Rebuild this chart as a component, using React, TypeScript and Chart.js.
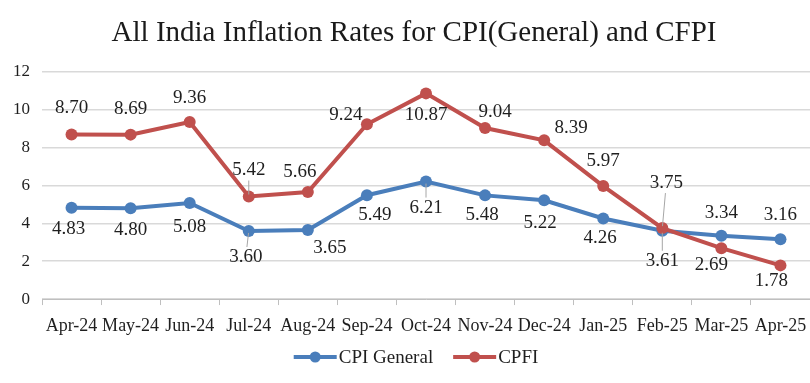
import React, { useEffect, useRef } from "react";
import { Chart, registerables } from "chart.js";

Chart.register(...registerables);

const months = ["Apr-24", "May-24", "Jun-24", "Jul-24", "Aug-24", "Sep-24", "Oct-24", "Nov-24", "Dec-24", "Jan-25", "Feb-25", "Mar-25", "Apr-25"];
const cpiGeneral = [4.83, 4.8, 5.08, 3.6, 3.65, 5.49, 6.21, 5.48, 5.22, 4.26, 3.61, 3.34, 3.16];
const cfpi = [8.7, 8.69, 9.36, 5.42, 5.66, 9.24, 10.87, 9.04, 8.39, 5.97, 3.75, 2.69, 1.78];
const yTicks = [0, 2, 4, 6, 8, 10, 12];
const titleText = "All India Inflation Rates for CPI(General) and CFPI";
const seriesNames = ["CPI General", "CPFI"];

const BLUE = "#4A7EBB";
const RED = "#C0504D";
const TEXT = "#1f1f1f";
const FONT = "'Liberation Serif', 'Times New Roman', serif";

// label placement offsets (dx, dy) relative to each point, plus leader-line flags
const cpiLabelOffsets = [[-3, 21], [0, 22], [0, 24], [-3, 26], [22, 18], [8, 20], [0, 26], [-3, 20], [-4, 23], [-3, 20], [0, 30], [0, -23], [0, -24]];
const cfpiLabelOffsets = [[0, -26], [0, -26], [0, -24], [0, -26], [-8, -20], [-21, -9], [0, 22], [10, -16], [27, -12], [0, -25], [4, -45], [-10, 17], [-9, 16]];
const cpiLeaders = [false, false, false, true, false, false, true, false, false, false, true, false, false];
const cfpiLeaders = [false, false, false, true, false, false, false, false, false, false, true, false, false];

const dataLabelPlugin = {
  id: "dataLabels",
  afterDatasetsDraw(chart: any) {
    const ctx = chart.ctx;
    const sets = [
      { values: cpiGeneral, offsets: cpiLabelOffsets, leaders: cpiLeaders, idx: 0 },
      { values: cfpi, offsets: cfpiLabelOffsets, leaders: cfpiLeaders, idx: 1 },
    ];
    ctx.save();
    ctx.font = `19px ${FONT}`;
    ctx.textAlign = "center";
    ctx.textBaseline = "middle";
    for (const s of sets) {
      const meta = chart.getDatasetMeta(s.idx);
      meta.data.forEach((pt: any, i: number) => {
        const [dx, dy] = s.offsets[i];
        const lx = pt.x + dx;
        const ly = pt.y + dy;
        if (s.leaders[i]) {
          const len = Math.hypot(dx, dy);
          const ux = dx / len;
          const uy = dy / len;
          ctx.strokeStyle = "#a6a6a6";
          ctx.lineWidth = 1;
          ctx.beginPath();
          ctx.moveTo(lx - ux * 10, ly - uy * 10);
          ctx.lineTo(pt.x + ux * 2, pt.y + uy * 2);
          ctx.stroke();
        }
        ctx.fillStyle = TEXT;
        ctx.fillText(s.values[i].toFixed(2), lx, ly);
      });
    }
    ctx.restore();
  },
};

const titleLegendPlugin = {
  id: "titleLegend",
  afterDraw(chart: any) {
    const ctx = chart.ctx;
    ctx.save();
    // title
    ctx.font = `29px ${FONT}`;
    ctx.fillStyle = "#1a1a1a";
    ctx.textAlign = "center";
    ctx.textBaseline = "middle";
    ctx.fillText(titleText, 414, 33);
    // legend
    ctx.font = `19px ${FONT}`;
    ctx.textAlign = "left";
    const colors = [BLUE, RED];
    const iconW = 43;
    const gapIcon = 2;
    const gapItem = 20;
    const widths = seriesNames.map((n) => ctx.measureText(n).width);
    const total = widths.reduce((a, w) => a + iconW + gapIcon + w, 0) + gapItem * (seriesNames.length - 1);
    let x = 416 - total / 2;
    const y = 357;
    seriesNames.forEach((name, i) => {
      ctx.strokeStyle = colors[i];
      ctx.lineWidth = 4;
      ctx.beginPath();
      ctx.moveTo(x, y);
      ctx.lineTo(x + iconW, y);
      ctx.stroke();
      ctx.fillStyle = colors[i];
      ctx.beginPath();
      ctx.arc(x + iconW / 2, y, 5.5, 0, Math.PI * 2);
      ctx.fill();
      ctx.fillStyle = TEXT;
      ctx.fillText(name, x + iconW + gapIcon, y + 1);
      x += iconW + gapIcon + widths[i] + gapItem;
    });
    ctx.restore();
  },
};

export default function App() {
  const ref = useRef<HTMLCanvasElement>(null);
  useEffect(() => {
    if (!ref.current) return;
    const chart = new Chart(ref.current, {
      type: "line",
      data: {
        labels: months,
        datasets: [
          {
            label: seriesNames[0],
            data: cpiGeneral,
            borderColor: BLUE,
            backgroundColor: BLUE,
            borderWidth: 4,
            pointRadius: 6,
            pointBackgroundColor: BLUE,
            pointBorderWidth: 0,
            tension: 0,
            order: 1,
          },
          {
            label: seriesNames[1],
            data: cfpi,
            borderColor: RED,
            backgroundColor: RED,
            borderWidth: 4,
            pointRadius: 6,
            pointBackgroundColor: RED,
            pointBorderWidth: 0,
            tension: 0,
            order: 0,
          },
        ],
      },
      options: {
        responsive: false,
        animation: false,
        layout: { autoPadding: false, padding: { left: 0, right: 0, top: 72, bottom: 36 } },
        scales: {
          x: {
            offset: true,
            grid: {
              display: true,
              drawOnChartArea: false,
              offset: true,
              tickLength: 6,
              color: "#bfbfbf",
            },
            border: { display: true, color: "#bfbfbf" },
            ticks: {
              color: TEXT,
              font: { family: FONT, size: 18, lineHeight: 2.33 },
              padding: 0,
              maxRotation: 0,
              autoSkip: false,
            },
          },
          y: {
            min: 0,
            max: 12,
            afterBuildTicks: (scale: any) => {
              scale.ticks = yTicks.map((v) => ({ value: v }));
            },
            afterFit: (scale: any) => {
              scale.width = 42;
            },
            grid: { color: "#d9d9d9", drawTicks: false, lineWidth: 1.5 },
            border: { display: false },
            ticks: {
              color: TEXT,
              font: { family: FONT, size: 17 },
              padding: 12,
            },
          },
        },
        plugins: {
          title: { display: false },
          legend: { display: false },
          tooltip: { enabled: false },
        },
      },
      plugins: [dataLabelPlugin, titleLegendPlugin],
    });
    return () => chart.destroy();
  }, []);
  return (
    <div style={{ position: "absolute", left: 0, top: 0, width: 810, height: 383, background: "#fff" }}>
      <canvas ref={ref} width={810} height={383} />
    </div>
  );
}
